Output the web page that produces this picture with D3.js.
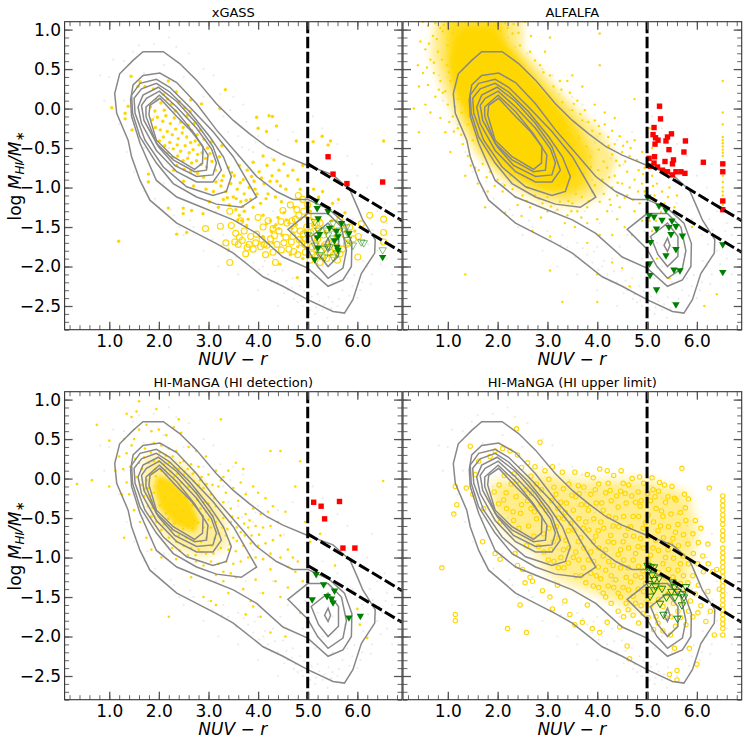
<!DOCTYPE html>
<html>
<head>
<meta charset="utf-8">
<script src="https://cdn.jsdelivr.net/npm/d3@7"></script>
<style>
body { margin: 0; background: white; }
svg { display: block; }
text { font-family: "DejaVu Sans", sans-serif; fill: black; }
</style>
</head>
<body>
<div id="chart"></div>
<script>

// tick values
var xTicks = [1, 2, 3, 4, 5, 6];
var yTicks = [1, 0.5, 0, -0.5, -1, -1.5, -2, -2.5];
var xMinor = d3.range(2, 69, 2).map(d => d / 10);
var yMinor = d3.range(-28, 11, 1).map(d => d / 10);

// density contours in (NUV-r, log MHI/M*)
var contourOuter = [[1.68,.72],[2.09,.72],[2.42,.57],[2.76,.36],[3.16,.06],[3.5,-.15],[3.83,-.32],[4.17,-.48],[4.5,-.59],[5,-.72],[5.51,-.84],[5.85,-1.03],[6.01,-1.26],[6.11,-1.41],[6.36,-1.66],[6.35,-1.83],[6.08,-2.09],[5.91,-2.42],[5.74,-2.59],[5.51,-2.57],[5,-2.42],[4.5,-2.25],[4.1,-2.13],[3.5,-1.83],[3.16,-1.71],[2.76,-1.58],[2.36,-1.45],[1.82,-1.16],[1.62,-.91],[1.45,-.61],[1.38,-.4],[1.15,-.06],[1.11,.19],[1.21,.44],[1.48,.61]];
var contourBridge = [[5,-1.15],[4.7,-1.15],[4.37,-1.05],[3.97,-.86],[3.63,-.61],[3.16,-.27],[2.76,.06],[2.36,.33],[2.02,.45],[1.68,.42],[1.48,.3],[1.43,.11],[1.45,-.1],[1.62,-.44],[1.95,-.91],[2.36,-1.12],[2.83,-1.24],[3.5,-1.41],[3.97,-1.58],[4.5,-1.88],[5,-2.02],[5.41,-2.25],[5.71,-2.17],[5.88,-2],[5.89,-1.71],[5.74,-1.45],[5.44,-1.28]];
var contourBlue3 = [[3.97,-1.12],[3.66,-1.25],[3.16,-1.21],[2.76,-1.12],[2.29,-.95],[1.95,-.69],[1.62,-.36],[1.47,-.06],[1.45,.17],[1.62,.32],[1.95,.37],[2.22,.27],[2.62,.02],[3.09,-.29],[3.5,-.61]];
var contourBlue4 = [[3.46,-.86],[3.36,-1.05],[3.09,-1.1],[2.56,-.99],[2.09,-.74],[1.72,-.4],[1.52,-.06],[1.5,.13],[1.65,.25],[1.95,.32],[2.22,.21],[2.62,-.04],[3.03,-.36],[3.3,-.61]];
var contourBlue5 = [[3.26,-.78],[3.09,-.93],[2.76,-.93],[2.36,-.8],[1.95,-.53],[1.65,-.19],[1.58,.02],[1.68,.17],[1.99,.27],[2.36,.09],[2.76,-.19],[3.09,-.48]];
var contourBlue6 = [[3.16,-.69],[3.09,-.84],[2.76,-.86],[2.32,-.72],[1.99,-.48],[1.7,-.15],[1.65,.04],[1.75,.13],[2.01,.22],[2.36,.02],[2.76,-.25],[3.06,-.51]];
var contourBlue7 = [[2.99,-.59],[2.96,-.78],[2.72,-.8],[2.29,-.65],[1.95,-.44],[1.74,-.1],[1.74,.02],[2.01,.17],[2.36,-.04],[2.72,-.32]];
var contourBlue8 = [[2.89,-.48],[2.88,-.69],[2.72,-.77],[2.29,-.61],[1.95,-.4],[1.8,-.08],[1.82,.04],[2.02,.13],[2.36,-.1],[2.66,-.29]];
var contourRed1 = [[4.6,-1.53],[5,-1.33],[5.41,-1.33],[5.68,-1.5],[5.78,-1.8],[5.71,-2.02],[5.41,-2.15],[5.2,-2],[5,-1.78]];
var contourRed2 = [[5.07,-1.62],[5.41,-1.45],[5.62,-1.62],[5.62,-1.87],[5.41,-2],[5.22,-1.85]];
var contourRed3 = [[5.41,-1.64],[5.46,-1.73],[5.41,-1.81],[5.34,-1.73]];

var contours = [contourOuter, contourBridge, contourBlue3, contourBlue4, contourBlue5, contourBlue6, contourBlue7, contourBlue8, contourRed1, contourRed2, contourRed3];

// dividing lines
var lineUpper = [[5, -.7], [6.9, -1.42]];
var lineLower = [[5, -1.1], [6.9, -1.82]];
var lineVertical = [[5, 1.1], [5, -2.8]];

// parent sample, very faint, same in all panels
var parentSample = [[1.3,.6],[1.6,.8],[2.2,.9],[2.6,.7],[2.9,.5],[3.1,.42],[3.5,.15],[3.7,.05],[1,.4],[.9,.1],[1.2,-.2],[1.35,-.55],[1.5,-.8],[1.7,-1.05],[2,-1.25],[2.3,-1.35],[2.7,-1.5],[3,-1.55],[3.3,-1.6],[3.4,-1.75],[3.6,-1.7],[3.8,-1.85],[3.9,-1.95],[4,-1.75],[4.1,-2],[4.2,-2.1],[4.3,-1.9],[4.4,-2.2],[4.5,-2.05],[4.6,-2.3],[4.7,-2.15],[4.75,-2.35],[4.8,-2.45],[4.85,-2.25],[4.9,-2.5],[4.95,-2.4],[5.05,-2.55],[5.1,-2.45],[5.15,-2.6],[5.2,-2.35],[5.3,-2.55],[5.4,-2.65],[5.5,-2.45],[5.6,-2.5],[5.7,-2.3],[5.8,-2.15],[5.9,-2.25],[6,-2.4],[6.1,-2.2],[6.2,-2],[6.3,-2.1],[6.4,-1.8],[6.5,-1.7],[6.6,-1.9],[6.7,-1.6],[6.1,-1.6],[6.25,-1.4],[6.4,-1.3],[6.55,-1.2],[6.2,-1],[6,-.85],[6.3,-.7],[5.8,-.6],[5.6,-.45],[5.3,-.25],[5.1,-.1],[4.7,-.3],[4.4,-.4],[4,-.35],[3.9,-.55],[4.2,-.5],[3.6,-.35],[3.4,-.3],[3.6,-.6],[3.9,-.9],[4.3,-1.3],[4.6,-1.6],[4.9,-1.9],[3.2,-.9],[3,-.6],[2.1,-.95],[1.7,-.5],[1.5,-.2],[1.3,.1],[1.7,.45],[2.1,.55],[2.5,.4],[2.9,.15],[3.3,-.1],[5.3,-1.05],[5.6,-1.2],[5.9,-1.4],[5.3,-2],[5.5,-2.2],[5.15,-2.15],[4.95,-1.55],[5.2,-1.7],[5.5,-1.75],[5.75,-1.85],[2.4,-.2],[2.2,-.5],[2.6,-.6],[1.9,-.1],[4.05,-1.45],[4.45,-1.75],[3.75,-1.3],[3.15,-1.3],[2.5,-1.6],[2.9,-1.8],[3.2,-2],[3.6,-2.1],[4,-2.3],[4.4,-2.5],[5.2,-1.25],[6.6,-1.45],[6.7,-2.1],
[4.93,-2.31],[4.87,-2.43],[5.02,-2.47],[5.08,-2.38],[5.17,-2.52],[5.23,-2.44],[5.34,-2.48],[5.42,-2.39],[5.47,-2.53],[5.63,-2.41],[4.68,-2.27],[4.57,-2.18],[4.72,-2.41],[4.53,-2.34],[4.34,-2.06],[4.27,-2.19],[4.14,-1.93],[4.02,-2.04],[3.93,-1.81],[3.71,-1.77],[3.56,-1.88],[3.27,-1.73],[3.08,-1.66],[2.63,-1.42],[2.41,-1.5],[2.24,-1.28],[1.92,-1.14],[1.77,-.92],[6.12,-1.93],[6.22,-1.72],[6.31,-1.54],[6.44,-1.62],[6.57,-1.55],[6.47,-1.97],[6.27,-2.22],[6.06,-2.3],[5.94,-2.11],[5.84,-2.37],[6.62,-1.33],[3.76,-.17],[4.11,-.44],[3.95,-.43],[3.82,-.52],[3.68,-.49],[4.27,-.63],[4.52,-.71],[3.44,-.02],[3.24,.18],[1.48,.72],[1.9,.82],[2.35,.78],[1.08,.62],[.82,.42]];

// xGASS
var xgassDetected = [[1.05,.01],[1.44,.41],[1.38,.03],[1.32,-.06],[1.32,-.13],[1.46,-.27],[1.19,-1.68],[3.34,.24],[3.97,-.11],[4.22,-.09],[4.29,-.1],[4.37,-.22],[4,-.25],[4.17,-.29],[5.11,-.42],[5.29,-.35],[5.46,-.41],[5.41,-.46],[4.77,-.41],[6.53,-.41],[3.23,0],[2.86,.06],[2.64,.11],[2.19,.35],[1.62,.34],[1.58,.28],[1.72,.28],[1.89,.25],[1.79,-.83],[1.79,-.93],[2.19,-1.26],[2.36,-1.59],[2.56,-1.57],[2.49,-1.26],[2.49,-1.33],[2.66,-1.29],[2.89,-1.33],[3.4,-1.79],[4.44,-1.97],[4.79,-2.14],
[1.83,.02],[1.92,-.03],[1.87,-.14],[2.04,.07],[2.11,-.02],[2.17,.12],[2.26,.06],[2.33,-.03],[2.41,.09],[2.52,.01],[2.57,-.09],[2.63,-.04],[2.71,-.19],[1.97,-.11],[2.08,-.16],[2.14,-.09],[2.23,-.19],[2.31,-.12],[2.44,-.17],[2.49,-.24],[2.59,-.21],[2.66,-.28],[2.77,-.33],[2.84,-.27],[1.93,-.24],[2.03,-.27],[2.09,-.36],[2.17,-.29],[2.27,-.33],[2.34,-.26],[2.39,-.38],[2.47,-.31],[2.56,-.36],[2.64,-.43],[2.73,-.41],[2.81,-.46],[2.91,-.39],[2.98,-.5],[2.01,-.41],[2.12,-.47],[2.22,-.43],[2.29,-.51],[2.37,-.46],[2.44,-.54],[2.53,-.47],[2.61,-.56],[2.69,-.52],[2.78,-.58],[2.87,-.56],[2.94,-.63],[3.03,-.57],[2.18,-.56],[2.27,-.62],[2.38,-.6],[2.49,-.66],[2.58,-.63],[2.66,-.69],[2.76,-.66],[2.85,-.71],[2.96,-.74],[3.07,-.67],[3.14,-.78],[3.22,-.61],[2.36,-.72],[2.51,-.77],[2.64,-.8],[2.78,-.82],[2.9,-.87],[3.27,-.47],[3.06,-.42],[2.35,.21],[2.09,.18],[1.96,.11],
[3.15,-.93],[3.25,-.98],[3.3,-.85],[3.35,-1.05],[3.4,-.75],[3.45,-.95],[3.5,-1.12],[3.52,-.85],[3.58,-1.02],[3.62,-.72],[3.65,-1.18],[3.7,-.9],[3.72,-1.08],[3.78,-.78],[3.82,-1],[3.85,-1.15],[3.9,-.68],[3.92,-.92],[3.98,-1.08],[4.02,-.8],[4.05,-1.2],[4.1,-.6],[4.12,-.95],[4.18,-.72],[4.2,-1.08],[4.28,-.85],[4.32,-.65],[4.35,-1.12],[4.42,-.78],[4.45,-.98],[4.52,-.7],[4.6,-.85],[4.7,-.78],[4.8,-.9],[4.85,-1.02],[4.9,-.72],[3.1,-1.05],[3.02,-1.18],[3.2,-1.25],[3.3,-1.15],[3.42,-1.22],[3.55,-1.28],[3.62,-1.35],[3.72,-1.3],[3.8,-1.4],[3.9,-1.25],[2.95,-1.02],[2.7,-.98],[2.5,-.92],[2.3,-.78],[4.1,-1.35],[4.25,-1.42],[4.32,-1.5],[4.4,-1.38],[4.52,-1.32],[4.62,-1.45],[4.72,-1.25],[4.85,-1.4],[4.95,-1.55],[5.05,-1.3],[5.12,-1.02],[5.22,-1.12],[5.3,-1.05],[5.42,-1.25],[5.5,-1.2],[5.62,-1.15],[5.75,-1.32],[5.85,-1.42],[5.95,-1.55],[5.1,-1.48],[5.25,-1.4],[5.35,-1.55],[5.48,-1.42],[5.55,-1.62],[5.3,-1.72],[5.15,-1.82],[4.8,-1.75],[4.65,-1.85],[4.9,-1.9],[4.48,-1.6],[4.3,-1.7],[4.1,-1.62],
[3.27,-.91],[3.38,-1.13],[3.47,-.81],[3.56,-1.14],[3.64,-.94],[3.69,-1.24],[3.76,-1.16],[3.87,-.86],[3.94,-1.02],[4.07,-.88],[4.16,-1.14],[4.24,-.92],[4.38,-.92],[4.47,-1.18],[4.56,-1.02],[3.67,-1.42],[3.77,-1.48],[3.59,-1.41],[4.17,-1.46],[4.27,-1.56],[4.36,-1.47],[4.42,-1.52],[4.57,-1.41],[4.68,-1.52],[4.77,-1.47],[4.88,-1.63],[4.96,-1.37]];
var xgassLimit = [[3.43,-1.3],[2.94,-1.52],[3.24,-1.49],[3.46,-1.48],[3.43,-1.95],[3.75,-1.84],[4.15,-1.85],[3.55,-1.58],[3.53,-1.69],[6.25,-1.35],[6.53,-1.4],[6.53,-1.57],[6.53,-1.69],[6.01,-1.88],[6.08,-1.46],[4.81,-1.1],[4.5,-1.29],[3.72,-1.55],[3.85,-1.62],[3.6,-1.72],[3.95,-1.7],[4.05,-1.75],[4.1,-1.5],[4.25,-1.65],[4.3,-1.82],[4.38,-1.72],[4.42,-1.55],[4.52,-1.7],[4.58,-1.45],[4.62,-1.78],[4.7,-1.62],[4.75,-1.4],[4.8,-1.85],[4.85,-1.55],[4.88,-1.7],[4.92,-1.3],[4.95,-1.82],[4.98,-1.5],[5.02,-1.65],[5.05,-1.42],[5.08,-1.75],[5.12,-1.55],[5.15,-1.88],[5.2,-1.65],[5.25,-1.45],[5.28,-1.8],[5.32,-1.6],[5.38,-1.9],[5.42,-1.7],[5.48,-1.52],[5.52,-1.85],[5.58,-1.68],[5.65,-1.4],[5.7,-1.78],[5.75,-1.6],[5.82,-1.7],[5.85,-1.5],[5.92,-1.65],[6.02,-1.62],[4.65,-1.22],[4.78,-1.28],[4.9,-1.15],[5,-1.22],[4.2,-1.42],[4,-1.38],[4.35,-1.95],[3.35,-1.7],[3.65,-1.42],[5.05,-1.92],[5.25,-1.95],[5.6,-1.92],[3.9,-1.78],
[3.68,-1.67],[3.82,-1.72],[3.97,-1.59],[4.08,-1.66],[4.18,-1.73],[4.33,-1.61],[4.47,-1.79],[4.56,-1.63],[4.67,-1.69],[4.73,-1.53],[4.83,-1.66],[4.91,-1.59],[4.94,-1.72],[5.01,-1.36],[5.06,-1.57],[5.09,-1.84],[5.17,-1.71],[5.22,-1.52],[5.3,-1.87],[5.36,-1.72],[5.45,-1.82],[5.55,-1.76],[5.65,-1.84],[5.78,-1.72],[5.72,-1.52],[4.68,-1.42],[4.82,-1.35],[4.72,-1.81],[4.98,-1.74],[5.18,-1.45],[4.46,-1.43],[4.3,-1.52],[4.12,-1.72],[3.62,-1.63],[3.78,-1.76]];
var xgassRed = [[5.41,-.61],[5.51,-.83],[5.79,-.95],[6.51,-.93]];
var xgassGreen = [[5.17,-1.17],[5.19,-1.26],[5.41,-1.3],[5.21,-1.39],[5.68,-1.45],[5.44,-1.51],[5.58,-1.55],[5.83,-1.58],[5.24,-1.59],[5.19,-1.63],[5.61,-1.62],[5.54,-1.67],[5.21,-1.76],[5.59,-1.75],[5.14,-1.91],[6.51,-1.88],[5.61,-1.79]];
var xgassGreenOpen = [[5.14,-1.43],[5.21,-1.54],[5,-1.6],[5.51,-1.45],[5.38,-1.54],[5.78,-1.5],[5.81,-1.66],[5.91,-1.73],[6.08,-1.69],[6.13,-1.7],[5.51,-1.64],[5.34,-1.77],[5.41,-1.6],[5.14,-1.73],[5.51,-1.88],[5.24,-1.85],[5.34,-1.88],[5.44,-1.75],[6.51,-1.79],[5.64,-1.54],[5.81,-1.58],[5.59,-1.83]];

// ALFALFA, the middle of the cloud is too crowded to read dot by dot
var alfalfaHalo = [[.75,1.15],[2.5,1.15],[2.5,.75],[3,.4],[3.5,.05],[4.1,-.3],[4.4,-.65],[4.1,-1.1],[3.6,-1.25],[2.9,-1.2],[2.2,-.95],[1.6,-.6],[1.2,-.2],[.85,.3],[.65,.7]];
var alfalfaMid = [[.95,1.15],[2.1,1.15],[2.2,.85],[2.7,.45],[3.2,.1],[3.6,-.2],[3.9,-.6],[3.8,-1],[3.4,-1.12],[2.8,-1.05],[2.2,-.85],[1.7,-.55],[1.35,-.15],[1.1,.25],[.95,.6]];
var alfalfaCore = [[1.3,1.02],[1.9,1.02],[2.15,.8],[2.55,.5],[3,.15],[3.35,-.15],[3.55,-.5],[3.6,-.8],[3.4,-.98],[3,-1.02],[2.55,-.9],[2.1,-.72],[1.72,-.45],[1.4,-.08],[1.15,.25],[1.05,.55],[1.12,.85]];
var alfalfaDetected = [[.5,1.1],[.6,1.05],[.75,1.08],[.85,1.02],[.45,.85],[.55,.75],[.7,.92],[.65,.62],[.8,.72],[.4,.55],[.5,.45],[.72,.45],[.6,.3],[.85,.35],[.42,.28],[.55,.05],[.32,.0],[.75,.15],[.95,.22],[1,.05],[.65,-.05],[.85,-.12],[1.1,-.1],[.42,-.3],[.95,-.3],[1.2,-.25],[1.3,-.45],[1.05,-.55],[1.4,-.6],[1.5,-.4],[1.55,-.75],[1.7,-.7],[1.35,-.85],[1.6,-.95],[1.85,-.8],[2,-.9],[1.8,-1.05],[2.1,-1.05],[2.3,-1.02],[2.5,-1.1],[2.75,-1.1],[2.9,-1.2],[2.65,-1.25],[2.4,-1.22],[2.15,-1.32],[3,-1.3],[3.2,-1.28],[3.4,-1.35],[3.6,-1.3],[3.8,-1.25],[4.05,-1.18],[4.2,-1.3],[3.35,-1.45],[3.55,-1.5],[3.8,-1.45],[4,-1.4],[4.25,-1.15],[4.45,-1.25],[4.4,-1.4],[4.6,-1.1],[4.75,-1.3],[4.85,-1.2],[4.55,-1.5],[4.3,-1.6],[4.05,-1.6],[3.8,-1.7],[4.7,-1.6],[4.9,-1.42],[3.05,-1.62],[2.7,-1.55],[1.75,-1.25],[1.35,-2.1],[3.05,-2.05],[4,-2.1],[4.3,-1.95],[4.5,-2.02],[4.65,-2.25],[3.3,-2.45],[4,-2.45],[5.05,-1.42],
[2.3,.95],[2.45,.8],[2.65,.72],[2.85,.55],[3.05,.42],[3.25,.35],[3.45,.2],[3.6,.1],[3.75,-.02],[3.95,-.15],[4.15,-.2],[4.3,-.28],[4.45,-.35],[4.6,-.42],[4.75,-.4],[4.9,-.55],[3.3,.08],[3.5,-.02],[3.7,-.15],[3.9,-.28],[4.35,-.45],[4.5,-.55],[4.65,-.6],[4.8,-.65],[4.95,-.75],[4.45,-.72],[4.6,-.8],[4.75,-.9],[4.9,-.95],[4.35,-.85],[4.5,-.95],[4.65,-1],[4.3,-1],[4.82,-1.05],[4.95,-1.05],[4.4,-1.1],[2.95,.72],[3.4,.35],[3.95,.05],[2.2,1.02],[2.55,1.1],[2.15,1.08],[3.05,.9],[4.05,.95],[3.5,.42],[3.7,.28],[4.15,-.05],[4.35,-.12],[4.05,-.32],
[5.1,-.85],[5.2,-.95],[5.3,-1.05],[5.45,-1],[5.6,-1.1],[5.15,-1.1],[5.05,-1.15],[5.35,-1.2],[5.55,-1.25],[5.1,-1.55],[5.2,-1.9],[5.45,-2.15],[5.1,-.5],[5.05,-.25],[5.9,-1.5],[6.52,.35],[6.52,-.05],[6.52,-.2],[6.52,-.36],[6.52,-.4],[6.52,-.44],[6.52,-.48],[6.52,-.52],[6.52,-.56],[6.52,-.6],[6.52,-.85],[6.52,-.93],[6.52,-1],[6.52,-1.05],[6.52,-1.1],[6.52,-1.22],[4.05,.55],[4.75,.12],[6.4,-2.35],[6.15,-2.5],
[1.1,.95],[1.0,.8],[.9,.98],[1.75,1.1],[1.6,1.08],[1.35,1.1],[1.2,1.05],[1.95,1.05],[2.05,.98],[.98,.55],[1.05,.35],[.9,.2],[1.2,.12],[1.28,-.05],[1.4,-.2],[2.25,-.85],[2.6,-1],[3,-1.12],[3.5,-1.2],[3.9,-1.05],[4.1,-.9],[4.2,-.75],[4.3,-.58],
[3.63,-.37],[3.78,-.48],[3.86,-.61],[4.03,-.52],[4.13,-.67],[4.23,-.47],[4.38,-.66],[4.56,-.67],[4.24,-.87],[4.41,-.94],[4.13,-1.08],[4.02,-.78],[3.72,-.82],[3.87,-.74],[3.95,-.97],[3.69,-1.12],[3.83,-1.17],[3.57,-1.08],[3.42,-1.17],[3.25,-1.18],[3.07,-1.24],[2.83,-1.14],[2.58,-1.17],[2.36,-1.12],[2.14,-.97],[1.94,-.98],[1.78,-.87],[1.62,-.78],[1.46,-.72],[1.27,-.33],[1.12,-.29],[1.03,-.17],[1.14,.02],[2.92,.46],[3.12,.28],[3.28,.24],[3.53,.06],[3.66,-.07],[3.82,-.17],[4.03,-.22],[4.22,-.36],[4.52,-.47],[4.67,-.5],[4.83,-.78],[4.92,-.83],[4.55,-1.13],[4.72,-1.15],[4.27,-1.22],[3.48,-1.3],[3.68,-1.38],[2.87,-1.38],[2.48,-1.36],[.78,.88],[.62,.82],[.88,.62],[.72,.58],[.82,.24],[1.02,.46],[.58,.52],[.92,1.06],[2.42,.96],[2.67,.92],[2.32,1.07],[2.75,.61],[5.12,-.98],[5.42,-1.12],[5.28,-1.31],[5.18,-1.42]];
var alfalfaRed = [[5.25,.03],[5.27,-.13],[5.14,-.24],[5.12,-.33],[5.17,-.37],[5.22,-.4],[5.16,-.45],[5.38,-.41],[5.41,-.36],[5.49,-.32],[5.77,-.41],[5.44,-.52],[5.74,-.55],[5.04,-.63],[5.15,-.61],[5.14,-.69],[5.07,-.73],[5.21,-.74],[5.36,-.67],[5.53,-.65],[5.51,-.7],[5.31,-.78],[5.41,-.8],[5.51,-.84],[5.58,-.8],[5.68,-.8],[5.76,-.82],[6.13,-.68],[6.52,-.7],[6.52,-.8],[6.52,-1.17],[6.52,-1.28]];
var alfalfaGreen = [[5.01,-1.12],[5.24,-1.23],[5.38,-1.28],[5.14,-1.37],[5.04,-1.35],[5.3,-1.41],[5.5,-1.42],[5.58,-1.49],[5.44,-1.5],[5.19,-1.52],[5.48,-1.59],[5.71,-1.61],[5.07,-1.69],[5.58,-1.78],[5.38,-1.86],[5.05,-1.96],[5.54,-2.04],[5.66,-2.05],[5.06,-2.11],[5.19,-2.29],[5.58,-2.48],[6.52,-1.72],[6.52,-2.07]];

// HI-MaNGA detections
var mangaMid = [[1.75,.3],[2.3,.25],[2.9,-.05],[3.3,-.45],[3.4,-.85],[2.9,-1],[2.3,-.85],[1.9,-.55],[1.65,-.1]];
var mangaCore = [[1.98,.04],[2.25,-.02],[2.62,-.25],[2.82,-.55],[2.72,-.68],[2.35,-.6],[2.03,-.38],[1.9,-.1]];
var mangaDetected = [[.35,-.07],[.65,-.02],[.75,.68],[1,.48],[1,-.1],[1.35,.82],[1.45,.78],[1.55,.85],[1.6,.98],[1.95,.88],[2.4,.75],[3.25,.75],[1.3,.5],[1.35,.32],[1.2,.28],[1.28,.12],[1.12,.1],[1.25,-.2],[1.35,-.05],[1.45,.42],[1.5,.5],[1.6,.62],[1.75,.68],[1.85,.6],[2,.62],[2.15,.55],[2.3,.65],[2.45,.58],[2.6,.4],[2.75,.35],[2.95,.28],[1.52,.25],[1.42,.15],[1.6,.2],[1.72,.38],[1.9,.45],[2.05,.42],[2.2,.38],[2.35,.35],[2.5,.22],[2.65,.18],[2.8,.15],[3,.05],[3.15,.1],[3.3,.02],[1.4,-.2],[1.5,-.4],[1.3,-.75],[1.62,-.55],[1.75,-.75],[1.85,-.9],[2.05,-1],[2.35,-1.02],[2.65,-1.25],[2.9,-1.5],[3.05,-1.55],[2.2,-1.75],[3.15,-1.6],[3.3,-1.3],[3.4,-1.45],[3.55,-1.25],[3.7,-1.4],[3.85,-1.55],[3.95,-1.28],[4.1,-1.45],[4.25,-1.15],[4.35,-1.3],[4.45,-1.5],[4.6,-1.38],[3.9,-1.62],[4.05,-1.75],[3.75,-1.72],[4.25,-1.95],[4.55,-2],[4.85,-1.7],[4.9,-1.3],[5.4,-1.25],[5.25,-.7],[5.05,-.8],[4.95,-.55],[4.75,-.1],[4.85,.22],[4.45,.35],[4.25,.35],[6.52,-.03],[6.2,-2.02],[6,-1.65],[6.05,-1.85],[5.55,-1.1],
[3.25,-.02],[3.4,.1],[3.55,.2],[3.7,.12],[3.65,-.05],[3.5,-.12],[3.35,-.18],[3.2,-.1],[3.05,-.2],[3,-.32],[3.15,-.35],[3.3,-.3],[3.45,-.38],[3.6,-.28],[3.75,-.2],[3.9,-.1],[4,-.18],[4.15,-.25],[4.3,-.35],[4.2,-.42],[4.05,-.45],[3.9,-.38],[3.75,-.45],[3.6,-.5],[3.45,-.55],[3.3,-.5],[3.15,-.55],[3.05,-.62],[3.2,-.7],[3.35,-.72],[3.5,-.75],[3.65,-.68],[3.8,-.62],[3.95,-.6],[4.1,-.62],[4.25,-.6],[4.4,-.55],[4.55,-.42],[4.45,-.72],[4.3,-.78],[4.15,-.82],[4,-.85],[3.85,-.82],[3.7,-.85],[3.55,-.92],[3.4,-.9],[3.25,-.88],[3.1,-.95],[2.95,-.95],[2.8,-.9],[2.65,-.88],[2.5,-.85],[2.35,-.8],[2.2,-.75],[3.05,-1.05],[3.2,-1.08],[3.35,-1.05],[3.5,-1.08],[3.65,-1.05],[3.8,-1],[3.95,-1],[4.1,-1.02],[4.25,-.95],[4.45,-1],[4.6,-.9],[4.7,-1],[4.8,-1.05],[4.6,-1.12],[4.75,-1.18],[3.3,-1.18],[3.15,-1.22],[2.9,-1.1],[2.75,-1.05],[3.45,-1.2],
[1.55,.02],[1.65,-.08],[1.7,-.22],[1.78,-.35],[1.85,-.48],[1.95,-.55],[2.05,-.65],[1.8,.2],[1.9,.22],[2,.22],[2.1,.18],[2.2,.2],[2.3,.14],[2.4,.12],[2.5,.05],[2.6,.02],[2.7,-.03],[2.8,-.08],[2.9,-.12],[1.92,.12],[2.05,.1],[2.15,.05],[2.3,.02],[2.45,-.05],[2.6,-.1],[2.75,-.18],[1.82,.05],[1.75,-.02],[1.78,-.12],[2.9,-.3],[2.95,-.42],[3,-.52],[2.9,-.62],[2.95,-.75],[2.85,-.8],[2.7,-.78],[2.55,-.75],[2.4,-.72],[2.25,-.65],[2.1,-.58],[1.95,-.42],[1.85,-.28],[1.9,-.18],
[2.03,-.04],[2.17,-.12],[2.28,-.14],[2.42,-.22],[2.53,-.24],[2.67,-.34],[2.12,-.24],[2.23,-.32],[2.37,-.34],[2.48,-.41],[2.62,-.47],[2.72,-.53],[2.02,-.34],[2.14,-.44],[2.33,-.47],[2.44,-.53],[2.57,-.59],[1.87,.07],[1.94,.03],[2.13,.11],[2.24,.09],[2.37,.06],[2.52,.09],[2.68,.06],[2.83,-.02],[2.96,-.07],[1.72,-.13],[1.82,-.22],[1.87,-.37],[2.77,-.27],[2.84,-.38],[2.88,-.47],[2.79,-.56],[2.68,-.63],[2.49,-.64],[2.31,-.57],[2.19,-.51],[3.02,-.41],[3.08,-.47],[3.12,-.76],[3.06,-.85],[2.86,-.93],[2.74,-.97],[2.58,-.97],[2.42,-.91],[2.27,-.88],[3.28,-.62],[3.38,-.64],[3.48,-.48],[3.57,-.62],[3.72,-.57],[3.83,-.53],[3.43,-.83],[3.57,-.79],[3.73,-.72],[3.87,-.72],[4.02,-.71],[1.66,.12],[1.7,.27],[1.84,.33],[2.02,.33],[2.14,.29],[2.28,.28],[2.43,.2],[2.58,.12],[2.72,.08],[2.86,.02],[3.08,-.08],[3.12,-.25]];
var mangaRed = [[5.12,-.3],[5.27,-.35],[5.34,-.51],[5.64,-.29],[5.71,-.88],[5.95,-.88]];
var mangaGreen = [[5.17,-1.21],[5.32,-1.34],[5.54,-1.42],[5.09,-1.53],[5.39,-1.49],[5.48,-1.52],[5.51,-1.57],[5.83,-1.76],[6.06,-1.74]];

// HI-MaNGA upper limits
var limitHaze = [[1.85,-.06],[2.86,.06],[3.8,-.02],[5.01,-.02],[5.81,-.19],[6.01,-.65],[5.81,-1.33],[5.54,-1.58],[4.74,-1.66],[3.8,-1.41],[3.06,-1.24],[2.72,-.91],[2.26,-.74],[1.92,-.44]];
var mangaLimit = [[.88,-1.13],[1.15,-.1],[1.37,-.12],[1.18,-.33],[1.12,-.45],[1.45,.41],[1.85,.28],[2.38,.63],[2.85,.46],[1.62,.22],[1.55,.05],[1.5,-.2],[1.72,-.38],[1.95,.35],[2.1,.38],[2.25,.35],[2.4,.3],[2.6,.2],[2.75,.15],[2.95,.1],[3.1,.15],[3.3,.08],[3.55,.08],[3.8,.05],[4.05,.12],[4.2,.1],[4.48,.1],[4.7,0],[4.85,.02],[5.1,.01],[5.25,-.05],[5.35,-.08],[5.5,-.1],[5.7,.13],[6.25,-.12],[5.75,-.2],[5.55,-.25],[2.05,-1.02],[1.95,-.95],[2.35,-.95],[2.05,-.55],[1.7,-.8],[2.4,-1.1],[2.5,-1.15],[2.55,-1.32],[2.65,-1.25],[2.45,-1.6],[1.15,-1.72],[1.15,-1.8],[2.2,-1.9],[2.58,-1.95],[2.7,-1.3],[2.9,-1.42],[3.05,-1.5],[3.1,-1.65],[3.2,-1.35],[3.35,-1.55],[3.45,-1.72],[3.55,-1.85],[3.7,-1.82],[3.8,-1.6],[3.9,-1.9],[4.05,-1.95],[4.2,-1.82],[4.45,-1.88],[4.6,-2.12],[4.65,-2.28],[5.45,-2.48],[5.6,-2.43],[5.6,-2.55],[5.85,-2.15],[5.55,-2.15],[6,-2.35],[6.35,-1.98],
[1.93,-.17],[2.12,-.27],[2.27,-.07],[2.38,-.03],[2.57,-.14],[2.68,-.19],[2.87,-.33],[2.03,-.08],[2.13,.04],[2.33,.06],[2.48,.14],[2.67,.03],[2.78,-.07],[3.03,-.01],[3.13,-.11],[3.32,-.13],[3.43,-.07],[3.62,-.09],[3.73,-.11],[3.92,.01],[4.03,-.07],[4.22,-.06],[4.33,.04],[4.52,-.06],[4.63,-.08],[4.82,-.17],[4.93,-.06],[5.12,-.14],[5.23,-.16],[5.42,-.23],[5.58,-.27],[5.77,-.37],[5.83,-.26],[2.18,-.38],[2.37,-.23],[2.48,-.33],[2.67,-.38],[2.78,-.51],[2.97,-.4],[3.08,-.28],[3.27,-.3],[3.38,-.31],[3.57,-.23],[3.68,-.33],[3.87,-.2],[3.98,-.31],[4.17,-.18],[4.28,-.28],[4.47,-.16],[4.58,-.31],[4.77,-.3],[4.88,-.28],[5.07,-.28],[5.18,-.38],[5.37,-.3],[5.48,-.45],[5.67,-.43],[5.78,-.53],[5.97,-.53],[6.08,-.63],[2.32,-.53],[2.43,-.63],[2.62,-.6],[2.73,-.73],[2.92,-.7],[3.03,-.63],[3.22,-.5],[3.33,-.51],[3.52,-.4],[3.63,-.51],[3.82,-.4],[3.93,-.51],[4.12,-.4],[4.23,-.48],[4.42,-.36],[4.53,-.48],[4.72,-.48],[4.83,-.48],[5.02,-.46],[5.13,-.55],[5.32,-.48],[5.43,-.61],[5.62,-.58],[5.73,-.71],[5.92,-.7],[6.03,-.81],[6.22,-.83],[2.58,-.85],[2.82,-.86],[2.93,-.93],[3.12,-.8],[3.23,-.75],[3.42,-.66],[3.53,-.65],[3.72,-.63],[3.83,-.65],[4.02,-.66],[4.13,-.63],[4.32,-.6],[4.43,-.61],[4.62,-.63],[4.73,-.73],[4.92,-.63],[5.03,-.73],[5.22,-.66],[5.33,-.75],[5.52,-.76],[5.63,-.85],[5.82,-.83],[5.93,-.95],[6.12,-.98],[6.23,-1.08],[3.02,-1.03],[3.13,-1.05],[3.32,-.9],[3.43,-.88],[3.62,-.8],[3.73,-.88],[3.92,-.8],[4.03,-.88],[4.22,-.8],[4.33,-.81],[4.52,-.8],[4.63,-.88],[4.82,-.86],[4.93,-.88],[5.12,-.88],[5.23,-.91],[5.42,-.9],[5.53,-1.01],[5.72,-.98],[5.83,-1.08],[6.02,-1.08],[6.13,-1.18],[6.32,-1.18],[3.22,-1.13],[3.33,-1.13],[3.52,-1],[3.63,-1.03],[3.82,-1.03],[3.93,-1.05],[4.12,-.98],[4.23,-1.05],[4.42,-.96],[4.53,-1.03],[4.72,-1.03],[4.83,-1.11],[5.02,-1.03],[5.13,-1.11],[5.32,-1.08],[5.43,-1.15],[5.62,-1.16],[5.73,-1.23],[5.92,-1.23],[6.03,-1.35],[6.22,-1.43],[3.57,-1.23],[3.68,-1.23],[3.87,-1.2],[3.98,-1.23],[4.17,-1.16],[4.28,-1.23],[4.47,-1.13],[4.58,-1.25],[4.77,-1.23],[4.88,-1.25],[5.07,-1.23],[5.18,-1.33],[5.37,-1.26],[5.48,-1.35],[5.67,-1.33],[5.78,-1.43],[5.97,-1.46],[6.08,-1.61],[6.27,-1.68],[3.92,-1.36],[4.03,-1.38],[4.22,-1.36],[4.33,-1.38],[4.52,-1.38],[4.63,-1.41],[4.82,-1.4],[4.93,-1.43],[5.12,-1.43],[5.23,-1.53],[5.42,-1.46],[5.53,-1.58],[5.72,-1.58],[5.83,-1.68],[6.02,-1.7],[6.18,-1.81],[4.17,-1.5],[4.28,-1.58],[4.47,-1.5],[4.58,-1.58],[4.77,-1.58],[4.88,-1.61],[5.07,-1.6],[5.18,-1.75],[5.37,-1.76],[5.48,-1.75],[5.67,-1.76],[5.78,-1.85],[4.42,-1.68],[4.53,-1.75],[4.72,-1.73],[4.83,-1.83],[5.02,-1.76],[5.13,-1.91],[5.32,-1.93],[5.47,-1.98],
[2.02,-.32],[2.17,-.18],[2.31,-.42],[2.46,-.44],[2.6,-.28],[2.74,-.42],[2.88,-.14],[3.17,-.2],[3.36,-.43],[3.49,-.21],[3.64,-.19],[3.79,-.33],[3.96,-.14],[4.09,-.31],[4.26,-.15],[4.39,-.22],[4.56,-.19],[4.69,-.22],[4.86,-.35],[5.01,-.19],[5.16,-.23],[5.29,-.41],[3.21,-.38],[3.47,-.57],[3.77,-.55],[4.07,-.55],[4.37,-.5],[4.67,-.61],[4.97,-.56],[5.27,-.6],[5.57,-.68],[3.18,-.61],[3.37,-.78],[3.67,-.75],[3.97,-.73],[4.27,-.72],[4.57,-.72],[4.87,-.76],[5.17,-.78],[5.47,-.83],[3.07,-.9],[3.27,-1],[3.57,-.93],[3.87,-.93],[4.17,-.9],[4.47,-.9],[4.77,-.95],[5.07,-.97],[5.37,-1],[5.67,-1.08],[3.42,-1.07],[3.72,-1.13],[4.02,-1.12],[4.32,-1.1],[4.62,-1.13],[4.92,-1.17],[5.22,-1.19],[5.52,-1.25],[5.82,-1.32],[3.77,-1.32],[4.07,-1.27],[4.37,-1.28],[4.67,-1.31],[4.97,-1.33],[5.27,-1.38],[5.57,-1.44],[5.87,-1.55],[4.12,-1.45],[4.42,-1.45],[4.72,-1.49],[5.02,-1.52],[5.32,-1.62],[5.62,-1.68],[5.92,-1.75],[4.62,-1.66],[4.92,-1.71],[5.22,-1.83],[5.57,-1.87],
[6.52,-.22],[6.52,-.28],[6.52,-.34],[6.52,-.4],[6.52,-.46],[6.52,-.52],[6.52,-.58],[6.52,-.66],[6.52,-.72],[6.52,-.78],[6.52,-.88],[6.52,-.94],[6.52,-1],[6.52,-1.06],[6.52,-1.12],[6.52,-1.18],[6.52,-1.24],[6.52,-1.3],[6.52,-1.36],[6.52,-1.42],[6.52,-1.48],[6.52,-1.54],[6.52,-1.6],[6.52,-1.66],[6.52,-1.72],[6.52,-1.78],[6.52,-1.84],[6.52,-1.9],[6.52,-1.98],[6.4,-1.15],[6.45,-1.4]];
var mangaGreenOpen = [[5.01,-1.1],[5.07,-1.12],[5.14,-1.12],[5.04,-1.16],[5.1,-1.22],[5.14,-1.28],[5.24,-1.26],[5.04,-1.33],[5.17,-1.36],[5.3,-1.39],[5.14,-1.41],[5.06,-1.49],[5.51,-1.31],[5.55,-1.37],[5.78,-1.37],[5.61,-1.43],[5.71,-1.46],[5.56,-1.5],[5.39,-1.5],[5.26,-1.58],[5.7,-1.6],[5.33,-1.72],[5.61,-1.77],[5.74,-1.5],[5.49,-1.43]];

var panels = [
	{ title: "xGASS", dy: 0, left: 64.6, right: 402, yLabel: true, dotR: 1.7, openR: 3, detected: xgassDetected, limit: xgassLimit, red: xgassRed, green: xgassGreen, greenOpen: xgassGreenOpen, fills: [] },
	{ title: "ALFALFA", dy: 0, left: 403, right: 741.7, yLabel: false, dotR: 1.2, openR: 2, detected: alfalfaDetected, limit: [], red: alfalfaRed, green: alfalfaGreen, greenOpen: [], fills: [[alfalfaHalo, 0.45, 4], [alfalfaMid, 0.8, 4], [alfalfaCore, 1, 2]] },
	{ title: "HI-MaNGA (HI detection)", dy: 370, left: 64.6, right: 402, yLabel: true, dotR: 1.3, openR: 2, detected: mangaDetected, limit: [], red: mangaRed, green: mangaGreen, greenOpen: [], fills: [[mangaMid, 0.4, 4], [mangaCore, 0.9, 2]] },
	{ title: "HI-MaNGA (HI upper limit)", dy: 370, left: 403, right: 741.7, yLabel: false, dotR: 1, openR: 2.2, detected: [], limit: mangaLimit, red: [], green: [], greenOpen: mangaGreenOpen, fills: [[limitHaze, 0.45, 6]] }
];

var gold = "#ffd700";
var topY = 21.7, bottomY = 329.7;

var svg = d3.select("#chart").append("svg").attr("width", 748).attr("height", 746);

// soft edges for the crowded areas
var defs = svg.append("defs");
[2, 4, 6].forEach(function(s) {
	defs.append("filter").attr("id", "soft" + s)
		.attr("x", "-30%").attr("y", "-30%").attr("width", "160%").attr("height", "160%")
		.append("feGaussianBlur").attr("stdDeviation", s);
});

function renderPanel(p, i) {

	var x = d3.scaleLinear().domain([0.1, 6.9]).range([p.left, p.right]);
	var y = d3.scaleLinear().domain([-2.8, 1.1]).range([bottomY + p.dy, topY + p.dy]);

	var clipId = "clip" + i;
	svg.append("clipPath").attr("id", clipId).append("rect")
		.attr("x", p.left).attr("y", topY + p.dy)
		.attr("width", p.right - p.left).attr("height", bottomY - topY);

	var plot = svg.append("g").attr("clip-path", "url(#" + clipId + ")");

	var line = d3.line().x(d => x(d[0])).y(d => y(d[1]));
	var closed = d3.line().x(d => x(d[0])).y(d => y(d[1])).curve(d3.curveLinearClosed);

	plot.selectAll("circle.parent").data(parentSample).enter().append("circle")
		.attr("class", "parent")
		.attr("cx", d => x(d[0])).attr("cy", d => y(d[1])).attr("r", 1.1)
		.attr("fill", "#999").attr("opacity", 0.2);

	plot.selectAll("path.fill").data(p.fills).enter().append("path")
		.attr("class", "fill")
		.attr("d", d => closed(d[0]))
		.attr("fill", gold).attr("opacity", d => d[1])
		.attr("filter", d => "url(#soft" + d[2] + ")");

	plot.selectAll("circle.det").data(p.detected).enter().append("circle")
		.attr("class", "det")
		.attr("cx", d => x(d[0])).attr("cy", d => y(d[1])).attr("r", p.dotR)
		.attr("fill", gold);

	plot.selectAll("circle.lim").data(p.limit).enter().append("circle")
		.attr("class", "lim")
		.attr("cx", d => x(d[0])).attr("cy", d => y(d[1])).attr("r", p.openR)
		.attr("fill", "none").attr("stroke", gold).attr("stroke-width", 1.1);

	plot.selectAll("path.contour").data(contours).enter().append("path")
		.attr("class", "contour")
		.attr("d", closed)
		.attr("fill", "none").attr("stroke", "#888").attr("stroke-width", 1.5);

	var triangle = d3.symbol().type(d3.symbolTriangle).size(24);

	plot.selectAll("path.greenOpen").data(p.greenOpen).enter().append("path")
		.attr("class", "greenOpen")
		.attr("d", triangle)
		.attr("transform", d => "translate(" + x(d[0]) + "," + y(d[1]) + ") rotate(180)")
		.attr("fill", "none").attr("stroke", "#008000").attr("stroke-width", 1)
		.attr("opacity", i == 0 ? 0.5 : 0.9);

	plot.selectAll("path.green").data(p.green).enter().append("path")
		.attr("class", "green")
		.attr("d", triangle)
		.attr("transform", d => "translate(" + x(d[0]) + "," + y(d[1]) + ") rotate(180)")
		.attr("fill", "#008000");

	plot.selectAll("rect.red").data(p.red).enter().append("rect")
		.attr("class", "red")
		.attr("x", d => x(d[0]) - 2.7).attr("y", d => y(d[1]) - 2.7)
		.attr("width", 5.4).attr("height", 5.4)
		.attr("fill", "#ff0000");

	plot.selectAll("path.divider").data([lineUpper, lineLower, lineVertical]).enter().append("path")
		.attr("class", "divider")
		.attr("d", line)
		.attr("fill", "none").attr("stroke", "black").attr("stroke-width", 3)
		.attr("stroke-dasharray", "11.5,3.5");

	// ticks point inward on all four sides
	var h = bottomY - topY, w = p.right - p.left;
	var sides = [
		{ axis: d3.axisBottom(x), values: xTicks, minor: xMinor, tr: [0, bottomY + p.dy], labels: true, pad: 5 },
		{ axis: d3.axisTop(x), values: xTicks, minor: xMinor, tr: [0, topY + p.dy], labels: false, pad: 0 },
		{ axis: d3.axisLeft(y), values: yTicks, minor: yMinor, tr: [p.left, 0], labels: p.yLabel, pad: 3.5 },
		{ axis: d3.axisRight(y), values: yTicks, minor: yMinor, tr: [p.right, 0], labels: false, pad: 0 }
	];

	sides.forEach(function(s) {

		var minorGroup = svg.append("g")
			.attr("transform", "translate(" + s.tr[0] + "," + s.tr[1] + ")")
			.call(s.axis.tickValues(s.minor).tickSizeInner(-4.5).tickSizeOuter(0).tickFormat(""));
		minorGroup.select(".domain").remove();
		minorGroup.selectAll("line").attr("stroke", "#555").attr("stroke-width", 0.9);

		var majorGroup = svg.append("g")
			.attr("transform", "translate(" + s.tr[0] + "," + s.tr[1] + ")")
			.call(s.axis.tickValues(s.values).tickSizeInner(-8).tickSizeOuter(0).tickPadding(s.pad)
				.tickFormat(s.labels ? d3.format(".1f") : ""));
		majorGroup.select(".domain").remove();
		majorGroup.selectAll("line").attr("stroke", "#555").attr("stroke-width", 1.3);
		majorGroup.selectAll("text")
			.attr("font-size", 17).attr("font-family", "DejaVu Sans")
			.text(d => s.labels ? d3.format(".1f")(d) : "");
	});

	svg.append("rect")
		.attr("x", p.left).attr("y", topY + p.dy)
		.attr("width", w).attr("height", h)
		.attr("fill", "none").attr("stroke", "#333").attr("stroke-width", 1.1);

	svg.append("text")
		.attr("x", (p.left + p.right) / 2).attr("y", 16.6 + p.dy)
		.attr("text-anchor", "middle").attr("font-size", 13)
		.text(p.title);

	var xLabel = svg.append("text")
		.attr("x", (p.left + p.right) / 2 - 0.5).attr("y", 365 + p.dy)
		.attr("text-anchor", "middle").attr("font-size", 17)
		.attr("font-style", "italic");
	xLabel.append("tspan").text("NUV");
	xLabel.append("tspan").attr("font-style", "normal").text(" \u2212 ");
	xLabel.append("tspan").text("r");

	if (p.yLabel) {
		var yLabel = svg.append("text")
			.attr("transform", "translate(21," + (176 + p.dy) + ") rotate(-90)")
			.attr("text-anchor", "middle").attr("font-size", 17);
		yLabel.append("tspan").text("log ");
		yLabel.append("tspan").attr("font-style", "italic").text("M");
		yLabel.append("tspan").attr("font-style", "italic").attr("font-size", 12).attr("dy", 3).text("HI");
		yLabel.append("tspan").attr("font-style", "italic").attr("dy", -3).text("/M");
		yLabel.append("tspan").attr("font-size", 12).attr("dy", 3).text("\u2217");
	}
}

panels.forEach(renderPanel);

</script>
</body>
</html>
